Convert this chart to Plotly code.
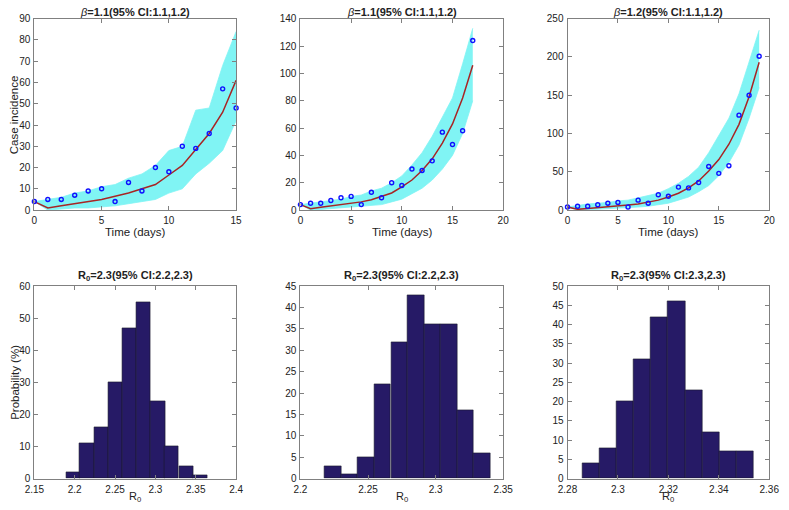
import plotly.graph_objects as go

# ---------------- data ----------------
obs_cases = [4, 5, 5, 7, 9, 10, 4, 13, 9, 20, 18, 30, 29, 36, 57, 48, 58, 124, 150, 201]

fit1 = [4, 1, 2, 3, 3.7, 5, 6.5, 8, 10, 12, 16.5, 21, 28.5, 36, 46, 61]
band1_hi = [4, 5, 6, 8, 9, 11, 12, 15, 17, 21, 28, 30, 47, 48, 68, 84]
band1_lo = [4, 0, 0.5, 1, 1, 1.5, 2, 3, 4, 5, 8, 10, 17, 22, 28, 42]

fit2 = [4, 1, 2, 3, 3.8, 4.7, 6, 7.5, 9.8, 12.5, 17, 22, 29, 37.5, 49, 63, 82, 106]
band2_hi = [4, 5, 6, 7, 8, 10, 11, 14, 16, 20, 25, 33, 42, 54, 68, 82, 107, 133]
band2_lo = [4, 0, 0.5, 1, 1.5, 2, 2.5, 3, 4, 6, 8, 12, 16, 22, 30, 40, 56, 80]

fit3 = [4, 1, 2, 3, 4, 5, 6.5, 8, 10.5, 13, 17, 22, 29, 38, 51, 66, 86, 112, 148, 193]
band3_hi = [4, 6, 8, 9, 10, 12, 13, 16, 19, 22, 28, 35, 44, 56, 75, 97, 120, 152, 192, 235]
band3_lo = [4, 0, 0.5, 1, 1.5, 2, 3, 4, 5, 7, 9, 13, 17, 24, 32, 45, 62, 85, 120, 160]

r0_centers_1 = [2.198, 2.215, 2.233, 2.250, 2.268, 2.285, 2.303, 2.320, 2.338, 2.355]
r0_prob_1 = [2, 11, 16, 30, 47, 55, 24, 10, 4, 1]
r0_width_1 = 0.0175

r0_centers_2 = [2.2241, 2.2363, 2.2486, 2.2608, 2.2731, 2.2853, 2.2976, 2.3098, 2.3220, 2.3343]
r0_prob_2 = [3, 1, 5, 22, 32, 43, 36, 36, 16, 6]
r0_width_2 = 0.01224

r0_centers_3 = [2.2892, 2.2960, 2.3028, 2.3096, 2.3164, 2.3232, 2.3300, 2.3368, 2.3436, 2.3504]
r0_prob_3 = [4, 8, 20, 31, 42, 46, 23, 12, 7, 7]
r0_width_3 = 0.0068

top_titles = ["<i>β</i><b>=1.1(95% CI:1.1,1.2)</b>",
              "<i>β</i><b>=1.1(95% CI:1.1,1.2)</b>",
              "<i>β</i><b>=1.2(95% CI:1.1,1.2)</b>"]
bot_titles = ["<b>R<sub>0</sub>=2.3(95% CI:2.2,2.3)</b>",
              "<b>R<sub>0</sub>=2.3(95% CI:2.2,2.3)</b>",
              "<b>R<sub>0</sub>=2.3(95% CI:2.3,2.3)</b>"]

# ---------------- layout geometry ----------------
W, H = 789, 510
xdoms_px = [(25, 232), (298, 506), (572, 779)]
top_px = (13, 209)
bot_px = (287, 484)

def xd(p):
    return [p[0] / W, p[1] / W]

def yd(p):
    return [1 - p[1] / H, 1 - p[0] / H]

CYAN = "#80f4f4"
RED = "#a82424"
BLUE = "#1010ff"
NAVY = "#261a66"
AXC = "#808080"
TXT = "#222222"
FONT = "Liberation Sans, Arial, Helvetica, sans-serif"

fig = go.Figure()

tops = [(fit1, band1_hi, band1_lo, 16, [0, 15], [0, 90], 10, 5),
        (fit2, band2_hi, band2_lo, 18, [0, 20], [0, 140], 20, 5),
        (fit3, band3_hi, band3_lo, 20, [0, 20], [0, 250], 50, 5)]

layout_axes = {}
for i, (fit, hi, lo, n, xr, yr, ydt, xdt) in enumerate(tops):
    k = i + 1
    xa = "x" if k == 1 else f"x{k}"
    ya = "y" if k == 1 else f"y{k}"
    days = list(range(n))
    fig.add_trace(go.Scatter(x=days, y=lo, xaxis=xa, yaxis=ya, mode="lines",
                             line=dict(color=CYAN, width=0.8), showlegend=False,
                             hoverinfo="skip"))
    fig.add_trace(go.Scatter(x=days, y=hi, xaxis=xa, yaxis=ya, mode="lines",
                             line=dict(color=CYAN, width=0.8), fill="tonexty",
                             fillcolor=CYAN, showlegend=False, hoverinfo="skip"))
    fig.add_trace(go.Scatter(x=days, y=fit, xaxis=xa, yaxis=ya, mode="lines",
                             line=dict(color=RED, width=1.5), showlegend=False))
    fig.add_trace(go.Scatter(x=days, y=obs_cases[:n], xaxis=xa, yaxis=ya, mode="markers",
                             marker=dict(symbol="circle-open", size=4, color=BLUE,
                                         line=dict(width=1.4, color=BLUE)),
                             showlegend=False, cliponaxis=False))
    axkey = "xaxis" if k == 1 else f"xaxis{k}"
    aykey = "yaxis" if k == 1 else f"yaxis{k}"
    layout_axes[axkey] = dict(domain=xd(xdoms_px[i]), range=xr, dtick=xdt, tick0=0,
                              anchor=ya)
    layout_axes[aykey] = dict(domain=yd(top_px), range=yr, dtick=ydt, tick0=0,
                              anchor=xa)

bots = [(r0_centers_1, r0_prob_1, r0_width_1, [2.15, 2.4], 0.05, [0, 60], 10),
        (r0_centers_2, r0_prob_2, r0_width_2, [2.2, 2.35], 0.05, [0, 45], 5),
        (r0_centers_3, r0_prob_3, r0_width_3, [2.28, 2.36], 0.02, [0, 50], 5)]

for i, (cx, pr, w, xr, xdt, yr, ydt) in enumerate(bots):
    k = i + 4
    xa, ya = f"x{k}", f"y{k}"
    fig.add_trace(go.Bar(x=cx, y=pr, width=w, xaxis=xa, yaxis=ya,
                         marker=dict(color=NAVY, line=dict(color="#1a1a2a", width=0.6)),
                         showlegend=False))
    layout_axes[f"xaxis{k}"] = dict(domain=xd(xdoms_px[i]), range=xr, dtick=xdt,
                                    tick0=xr[0], anchor=ya)
    layout_axes[f"yaxis{k}"] = dict(domain=yd(bot_px), range=yr, dtick=ydt, tick0=0,
                                    anchor=xa)

common = dict(showline=True, linecolor=AXC, linewidth=1, mirror="ticks",
              ticks="inside", ticklen=4, tickcolor=AXC, showgrid=False,
              zeroline=False, tickfont=dict(size=10, color=TXT, family=FONT),
              ticklabeloverflow="allow")
for key, val in layout_axes.items():
    val.update(common)
    val["ticklabelstandoff"] = 1

annotations = []
for i in range(3):
    cxp = (xdoms_px[i][0] + xdoms_px[i][1]) / 2 / W
    annotations.append(dict(text=top_titles[i], x=cxp, y=1 - 6 / H, xref="paper",
                            yref="paper", showarrow=False, xanchor="center",
                            yanchor="middle", font=dict(size=11, color=TXT, family=FONT)))
    annotations.append(dict(text=bot_titles[i], x=cxp, y=1 - 276 / H, xref="paper",
                            yref="paper", showarrow=False, xanchor="center",
                            yanchor="middle", font=dict(size=11, color=TXT, family=FONT)))
    annotations.append(dict(text="Time (days)", x=cxp, y=1 - 231 / H, xref="paper",
                            yref="paper", showarrow=False, xanchor="center",
                            yanchor="middle", font=dict(size=11.5, color=TXT, family=FONT)))
    annotations.append(dict(text="R<sub>0</sub>", x=cxp, y=1 - 503 / H, xref="paper",
                            yref="paper", showarrow=False, xanchor="center",
                            yanchor="middle", font=dict(size=11, color=TXT, family=FONT)))
annotations.append(dict(text="Case incidence", x=5 / W, y=1 - 111 / H, xref="paper",
                        yref="paper", showarrow=False, textangle=-90, xanchor="center",
                        yanchor="middle", font=dict(size=11.5, color=TXT, family=FONT)))
annotations.append(dict(text="Probability (%)", x=5 / W, y=1 - 385 / H, xref="paper",
                        yref="paper", showarrow=False, textangle=-90, xanchor="center",
                        yanchor="middle", font=dict(size=11.5, color=TXT, family=FONT)))

fig.update_layout(width=W, height=H, margin=dict(l=0, r=0, t=0, b=0),
                  paper_bgcolor="white", plot_bgcolor="white",
                  font=dict(family=FONT, color=TXT), bargap=0, hovermode=False,
                  annotations=annotations, **layout_axes)

fig.write_html("out.html", config={"displayModeBar": False},
               post_script="document.body.style.margin='0';document.body.style.overflow='hidden';")
